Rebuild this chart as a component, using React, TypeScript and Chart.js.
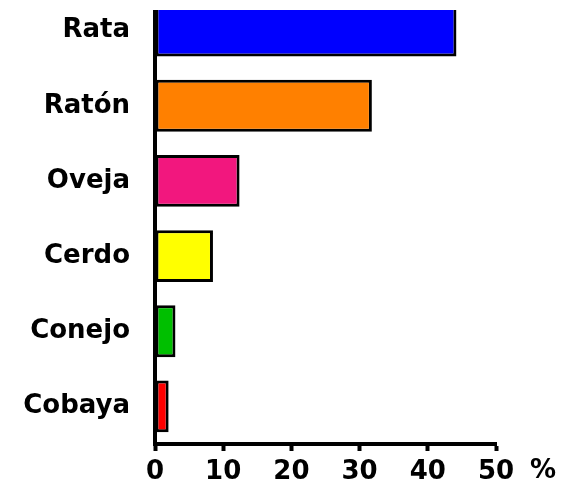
import React, { useEffect, useRef } from "react";
import { Chart, registerables } from "chart.js";

Chart.register(...registerables);

const categories = ["Rata", "Ratón", "Oveja", "Cerdo", "Conejo", "Cobaya"];
const values = [44.2, 31.8, 12.4, 8.5, 3.0, 2.0];
const barColors = ["#0000FF", "#FF8000", "#F2177E", "#FFFF00", "#00BF00", "#FF0000"];
const xTicks = [0, 10, 20, 30, 40, 50];
const unitLabel = "%";

const FONT = "'DejaVu Sans', Verdana, sans-serif";

export default function App() {
  const ref = useRef<HTMLCanvasElement>(null);

  useEffect(() => {
    if (!ref.current) return;
    const pct = {
      id: "pctLabel",
      afterDraw(chart: any) {
        const x = chart.scales.x;
        const ctx = chart.ctx;
        ctx.save();
        ctx.font = `bold 26px ${FONT}`;
        ctx.fillStyle = "#000";
        ctx.textAlign = "center";
        ctx.textBaseline = "middle";
        ctx.fillText(unitLabel, x.getPixelForValue(x.max) + 47, x.top + 27);
        ctx.restore();
      },
    };
    const chart = new Chart(ref.current, {
      type: "bar",
      data: {
        labels: categories,
        datasets: [
          {
            data: values,
            backgroundColor: barColors,
            borderColor: "#000",
            borderWidth: 3,
            borderSkipped: false,
            barPercentage: 0.69,
            categoryPercentage: 1,
          },
        ],
      },
      options: {
        indexAxis: "y",
        responsive: false,
        maintainAspectRatio: false,
        animation: false,
        devicePixelRatio: 1,
        layout: { padding: { top: 23, right: 75, left: 0, bottom: 0 } },
        plugins: { legend: { display: false }, tooltip: { enabled: false } },
        scales: {
          x: {
            min: 0,
            max: 50,
            afterBuildTicks: (s: any) => {
              s.ticks = xTicks.map((v) => ({ value: v }));
            },
            grid: {
              display: true,
              drawOnChartArea: false,
              drawTicks: true,
              tickLength: 7,
              tickWidth: 4,
              tickColor: "#000",
            },
            border: { display: true, color: "#000", width: 4 },
            ticks: {
              color: "#000",
              font: { family: FONT, size: 26, weight: "bold" },
              padding: 6,
              maxRotation: 0,
              autoSkip: false,
            },
            afterFit: (s: any) => {
              s.height = 46;
              s.paddingLeft = 0;
              s.paddingRight = 0;
            },
          },
          y: {
            grid: { display: true, drawOnChartArea: false, drawTicks: false },
            border: { display: true, color: "#000", width: 4 },
            ticks: {
              color: "#000",
              font: { family: FONT, size: 26, weight: "bold" },
              padding: 25,
            },
            afterFit: (s: any) => {
              s.width = 155;
              s.paddingTop = 0;
              s.paddingBottom = 0;
            },
          },
        },
      },
      plugins: [pct],
    } as any);
    return () => chart.destroy();
  }, []);

  return (
    <div
      style={{
        position: "absolute",
        left: 0,
        top: 0,
        width: 571,
        height: 485,
        background: "#fff",
        overflow: "hidden",
      }}
    >
      <div
        style={{
          position: "absolute",
          left: 0,
          top: 10,
          width: 571,
          height: 475,
          overflow: "hidden",
        }}
      >
        <canvas
          ref={ref}
          width={571}
          height={520}
          style={{ position: "absolute", left: 0, top: -40, width: 571, height: 520 }}
        />
      </div>
    </div>
  );
}
